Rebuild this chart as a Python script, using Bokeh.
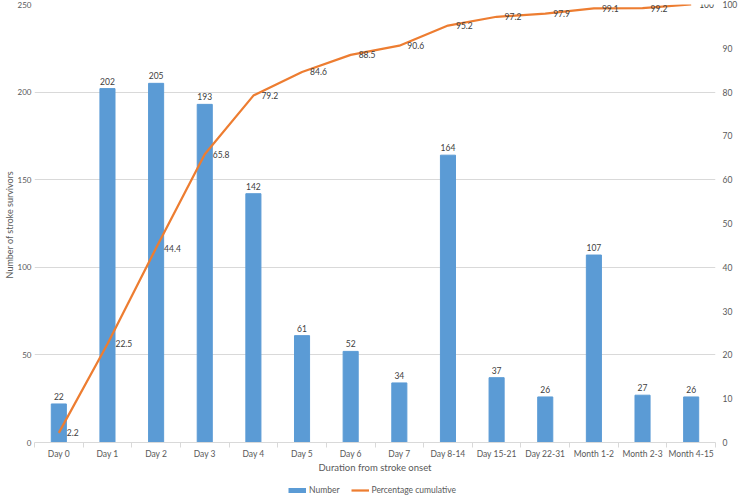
import math
from bokeh.plotting import figure
from bokeh.layouts import column
from bokeh.models import (Range1d, LinearAxis, FixedTicker, ColumnDataSource,
                          LabelSet, Legend, LegendItem)
from bokeh.core.properties import value
from bokeh.embed import file_html
from bokeh.resources import INLINE

categories = ["Day 0", "Day 1", "Day 2", "Day 3", "Day 4", "Day 5", "Day 6",
              "Day 7", "Day 8-14", "Day 15-21", "Day 22-31", "Month 1-2",
              "Month 2-3", "Month 4-15"]
numbers = [22, 202, 205, 193, 142, 61, 52, 34, 164, 37, 26, 107, 27, 26]
cumulative = [2.2, 22.5, 44.4, 65.8, 79.2, 84.6, 88.5, 90.6, 95.2, 97.2,
              97.9, 99.1, 99.2, 100]
left_ticks = [0, 50, 100, 150, 200, 250]
right_ticks = [0, 10, 20, 30, 40, 50, 60, 70, 80, 90, 100]
series_names = ["Number", "Percentage cumulative"]

FONT = "Lato"
TICK_COLOR = "#595959"
LABEL_COLOR = "#404040"
BLUE = "#5B9BD5"
ORANGE = "#ED7D31"
GRID = "#D9D9D9"

xs = list(range(len(categories)))
src = ColumnDataSource(dict(
    x=xs, n=numbers, pct=cumulative,
    nlab=[str(v) for v in numbers],
    plab=[f"{v:g}" for v in cumulative],
))

p = figure(width=740, height=484,
           x_range=Range1d(-0.5, len(categories) - 0.5),
           y_range=Range1d(0, 250),
           output_backend="svg", toolbar_location=None, title=None,
           min_border_left=33, min_border_right=21, min_border_top=4,
           min_border_bottom=42, outline_line_color=None)
p.extra_y_ranges = {"pct": Range1d(0, 100)}

# x axis
xa = p.xaxis[0]
xa.ticker = FixedTicker(ticks=xs, minor_ticks=[i - 0.5 for i in range(len(categories) + 1)])
xa.major_label_overrides = {i: c for i, c in enumerate(categories)}
xa.major_tick_line_color = None
xa.major_tick_out = 0
xa.major_tick_in = 0
xa.minor_tick_in = 0
xa.minor_tick_out = 5
xa.minor_tick_line_color = GRID
xa.axis_line_color = GRID
xa.major_label_text_font = FONT
xa.major_label_text_font_size = "8.5px"
xa.major_label_text_color = TICK_COLOR
xa.major_label_standoff = 1
xa.axis_label = "Duration from stroke onset"
xa.axis_label_text_font = FONT
xa.axis_label_text_font_size = "9.5px"
xa.axis_label_text_font_style = "normal"
xa.axis_label_text_color = TICK_COLOR
xa.axis_label_standoff = 0
p.xgrid.visible = False

# left y axis
ya = p.yaxis[0]
ya.ticker = FixedTicker(ticks=left_ticks)
ya.axis_line_color = None
ya.major_tick_line_color = None
ya.major_tick_out = 0
ya.major_tick_in = 0
ya.minor_tick_line_color = None
ya.major_label_text_font = FONT
ya.major_label_text_font_size = "8px"
ya.major_label_text_color = TICK_COLOR
ya.major_label_standoff = 3
ya.axis_label = "Number  of stroke survivors"
ya.axis_label_text_font = FONT
ya.axis_label_text_font_size = "9px"
ya.axis_label_text_font_style = "normal"
ya.axis_label_text_color = TICK_COLOR
ya.axis_label_standoff = 0
p.ygrid.ticker = FixedTicker(ticks=left_ticks)
p.ygrid.grid_line_color = GRID

# right y axis
ra = LinearAxis(y_range_name="pct", ticker=FixedTicker(ticks=right_ticks))
ra.axis_line_color = None
ra.major_tick_line_color = None
ra.major_tick_out = 0
ra.major_tick_in = 0
ra.minor_tick_line_color = None
ra.major_label_text_font = FONT
ra.major_label_text_font_size = "8.5px"
ra.major_label_text_color = TICK_COLOR
ra.major_label_standoff = 7
p.add_layout(ra, "right")

p.vbar(x="x", top="n", width=0.31, source=src, color=BLUE)
p.line(x="x", y="pct", source=src, y_range_name="pct",
       line_color=ORANGE, line_width=2.25)

bar_labels = LabelSet(x="x", y="n", text="nlab", source=src,
                      text_align="center", text_baseline="bottom", y_offset=4,
                      text_font=value(FONT), text_font_size="8.5px",
                      text_color=LABEL_COLOR)
p.add_layout(bar_labels)

pct_labels = LabelSet(x="x", y="pct", text="plab", source=src, y_range_name="pct",
                      text_align="left", text_baseline="middle", x_offset=8,
                      text_font=value(FONT), text_font_size="8.5px",
                      text_color=LABEL_COLOR)
p.add_layout(pct_labels)

# legend strip below the chart (its frame is aligned with the chart's frame)
lg = figure(width=740, height=12, output_backend="svg", toolbar_location=None,
            title=None, x_axis_location=None, y_axis_location=None,
            x_range=Range1d(0, 1), y_range=Range1d(0, 1),
            min_border=0, outline_line_color=None)
lg.xgrid.visible = False
lg.ygrid.visible = False
# single-point lines: nothing drawn, but they give the legend its swatch styles
r_num = lg.line(x=[0], y=[0], line_color=BLUE, line_width=5)
r_pct = lg.line(x=[0], y=[0], line_color=ORANGE, line_width=2.25)
legend = Legend(items=[LegendItem(label=series_names[0], renderers=[r_num]),
                       LegendItem(label=series_names[1], renderers=[r_pct])],
                orientation="horizontal", location=(254, 0),
                border_line_color=None, background_fill_alpha=0,
                padding=0, margin=0, spacing=11,
                glyph_width=18, glyph_height=12, label_height=12,
                label_standoff=3,
                label_text_font=FONT, label_text_font_size="8.5px",
                label_text_color=TICK_COLOR)
lg.add_layout(legend)

layout = column(p, lg, spacing=0)
open("out.html", "w").write(file_html(layout, INLINE))
